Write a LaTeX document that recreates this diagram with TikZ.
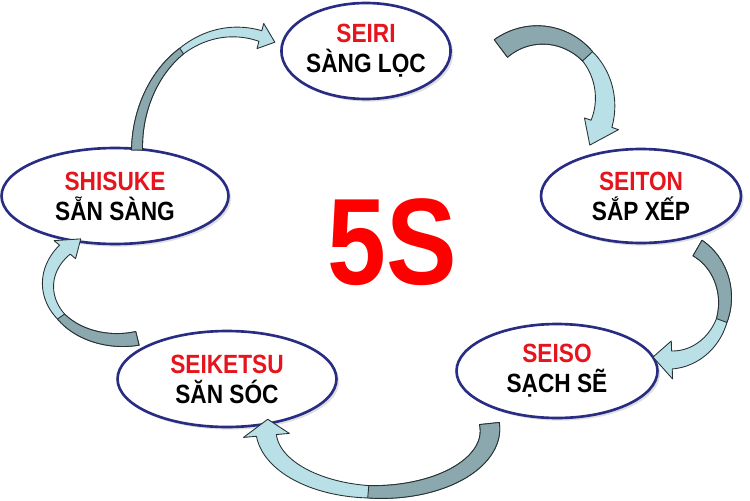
\documentclass[tikz,border=0pt]{standalone}
\usepackage{fontspec}
\usetikzlibrary{shapes.geometric,shadows}
\newfontfamily\labelfont[FakeStretch=0.86]{Liberation Sans}

\definecolor{ringblue}{RGB}{40,44,130}
\definecolor{labelred}{RGB}{230,20,28}
\definecolor{bandfront}{RGB}{186,224,231}
\definecolor{bandback}{RGB}{138,168,174}
\definecolor{bandline}{RGB}{40,50,52}

\tikzset{
	stage/.style={shape=ellipse, draw=ringblue, line width=1.5pt, fill=white, align=center, inner sep=0pt,
		font=\labelfont\bfseries\fontsize{15}{17}\selectfont,
		drop shadow={shadow xshift=1.5pt, shadow yshift=-1.5pt, opacity=0.25}},
	frontfill/.style={fill=bandfront, draw=bandline, line width=0.5pt, line join=round},
	backfill/.style={fill=bandback, draw=bandline, line width=0.5pt, line join=round},
}

% twisted band arrow: hub, rx, ry, start, twist, head base, tip, half band, half head
\newcommand{\twistarrow}[9]{%
	\def\fA{(0.62+0.38*(\t-#5)/(#4-#5))}%
	\def\fB{(0.62+0.38*(\t-#5)/(#6-#5))}%
	\begin{scope}[shift={(#1)}]
		\filldraw[frontfill]
			plot[domain=#4:#5, samples=30, variable=\t] ({(#2+#8*\fA)*cos(\t)}, {(#3+#8*\fA)*sin(\t)})
			-- plot[domain=#5:#6, samples=30, variable=\t] ({(#2+#8*\fB)*cos(\t)}, {(#3+#8*\fB)*sin(\t)})
			-- ({(#2+#9)*cos(#6)}, {(#3+#9)*sin(#6)}) -- ({#2*cos(#7)}, {#3*sin(#7)})
			-- ({(#2-#9)*cos(#6)}, {(#3-#9)*sin(#6)})
			-- plot[domain=#6:#5, samples=30, variable=\t] ({(#2-#8*\fB)*cos(\t)}, {(#3-#8*\fB)*sin(\t)})
			-- plot[domain=#5:#4, samples=30, variable=\t] ({(#2-#8*\fA)*cos(\t)}, {(#3-#8*\fA)*sin(\t)})
			-- cycle;
		\filldraw[backfill]
			plot[domain=#4:#5, samples=30, variable=\t] ({(#2+#8*\fA)*cos(\t)}, {(#3+#8*\fA)*sin(\t)})
			-- plot[domain=#5:#4, samples=30, variable=\t] ({(#2-#8*\fA)*cos(\t)}, {(#3-#8*\fA)*sin(\t)})
			-- cycle;
	\end{scope}}

\begin{document}
\begin{tikzpicture}[x=0.02cm, y=-0.02cm]
	\useasboundingbox (0,0) rectangle (750,500);
	% Stages:
	\node[stage, minimum width=3.28cm, minimum height=1.92cm] (seiri) at (366,51) {\textcolor{labelred}{SEIRI}\\SÀNG LỌC};
	\node[stage, minimum width=4.0cm, minimum height=1.88cm] (seiton) at (641,196) {\textcolor{labelred}{SEITON}\\SẮP XẾP};
	\node[stage, minimum width=4.02cm, minimum height=1.88cm] (seiso) at (557,371) {\textcolor{labelred}{SEISO}\\SẠCH SẼ};
	\node[stage, minimum width=4.38cm, minimum height=1.92cm] (seiketsu) at (227,379) {\textcolor{labelred}{SEIKETSU}\\SĂN SÓC};
	\node[stage, minimum width=4.54cm, minimum height=1.92cm] (shisuke) at (115,196) {\textcolor{labelred}{SHISUKE}\\SẴN SÀNG};
	\node[text=red, font=\labelfont\bfseries\fontsize{70}{70}\selectfont] (fives) at (392,242) {5S};
	% Arrow hubs:
	\coordinate (hubA) at (235,150);
	\coordinate (hubB) at (540,102);
	\coordinate (hubC) at (670,300);
	\coordinate (hubD) at (378,430);
	\coordinate (hubE) at (120,285);
	\twistarrow{hubA}{98}{118}{180}{237}{285}{294}{5.5}{13}
	\twistarrow{hubB}{65}{67}{233}{317}{379}{400}{11}{18}
	\twistarrow{hubC}{55}{60}{300}{380}{448}{468}{9}{19}
	\twistarrow{hubD}{112}{62}{-6}{95}{175}{190}{10}{23}
	\twistarrow{hubE}{72}{55}{76}{145}{220}{237}{7}{14}
\end{tikzpicture}
\end{document}
